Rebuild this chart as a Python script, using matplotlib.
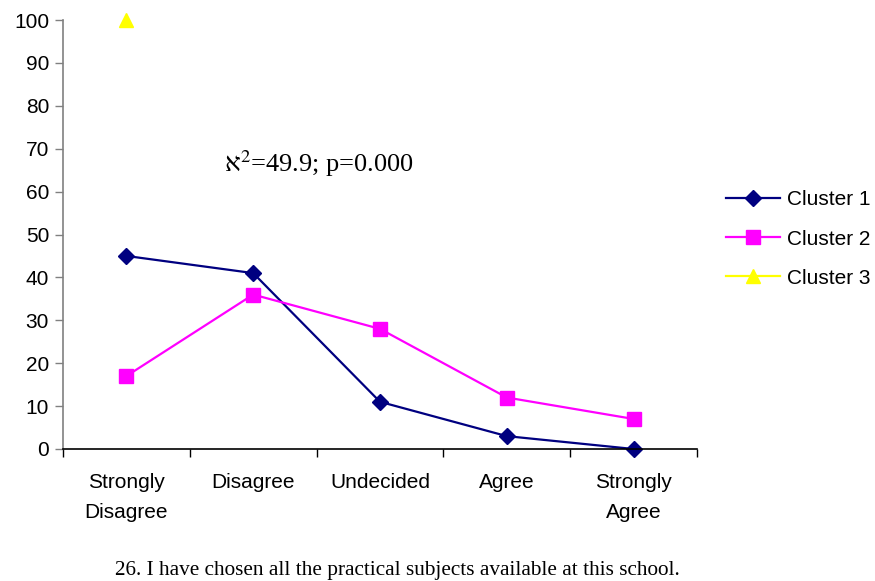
import numpy as np
import matplotlib
matplotlib.use("Agg")
import matplotlib.pyplot as plt

categories = ["Strongly\nDisagree", "Disagree", "Undecided", "Agree", "Strongly\nAgree"]
cluster1 = [45, 41, 11, 3, 0]
cluster2 = [17, 36, 28, 12, 7]
cluster3 = [100, np.nan, np.nan, np.nan, np.nan]
series_names = ["Cluster 1", "Cluster 2", "Cluster 3"]
yticks = [0, 10, 20, 30, 40, 50, 60, 70, 80, 90, 100]

plt.rcParams['font.family'] = ['Liberation Sans', 'DejaVu Sans']

fig = plt.figure(figsize=(8.75, 5.81), dpi=100)
ax = fig.add_axes([63/875, 1-449/581, (697-63)/875, (449-20)/581])

x = np.arange(len(categories))
ax.plot(x, cluster1, color="#000080", marker="D", ms=8.5, lw=1.6, label=series_names[0], clip_on=False)
ax.plot(x, cluster2, color="#FF00FF", marker="s", ms=10, lw=1.6, label=series_names[1], clip_on=False)
ax.plot(x, cluster3, color="#FFFF00", marker="^", ms=10, lw=1.6, label=series_names[2], clip_on=False)

ax.set_xlim(-0.5, len(categories) - 0.5)
ax.set_ylim(0, 100)
ax.set_yticks(yticks)
ax.set_xticks(x)
ax.set_xticklabels(categories, fontsize=15, linespacing=1.75)
ax.set_xticks(np.arange(-0.5, len(categories), 1), minor=True)
ax.tick_params(axis='x', which='major', length=0, pad=17)
ax.tick_params(axis='x', which='minor', length=6, color='black', width=1)
ax.tick_params(axis='y', labelsize=15, length=6, color='#808080', width=1, pad=4)
for s in ['top', 'right']:
    ax.spines[s].set_visible(False)
ax.spines['left'].set_color('#808080')
ax.spines['bottom'].set_color('black')
for sp in ax.spines.values():
    sp.set_linewidth(1.2)

fig.text(224/875, 1-172/581, "\u05d0$^{2}$=49.9; p=0.000", fontsize=19, ha='left', va='baseline',
         family=['Liberation Serif', 'DejaVu Serif'], math_fontfamily='stix')

leg = fig.legend(loc='center left', bbox_to_anchor=(726/875, 1-239/581), frameon=False,
                 fontsize=15, handlelength=2.6, handletextpad=0.35, labelspacing=0.97,
                 borderpad=0, borderaxespad=0)

fig.text(397/875, 1-575/581, "26. I have chosen all the practical subjects available at this school.",
         fontsize=15.3, ha='center', va='baseline', family=['Liberation Serif', 'DejaVu Serif'])

fig.savefig("out.png", dpi=100)
